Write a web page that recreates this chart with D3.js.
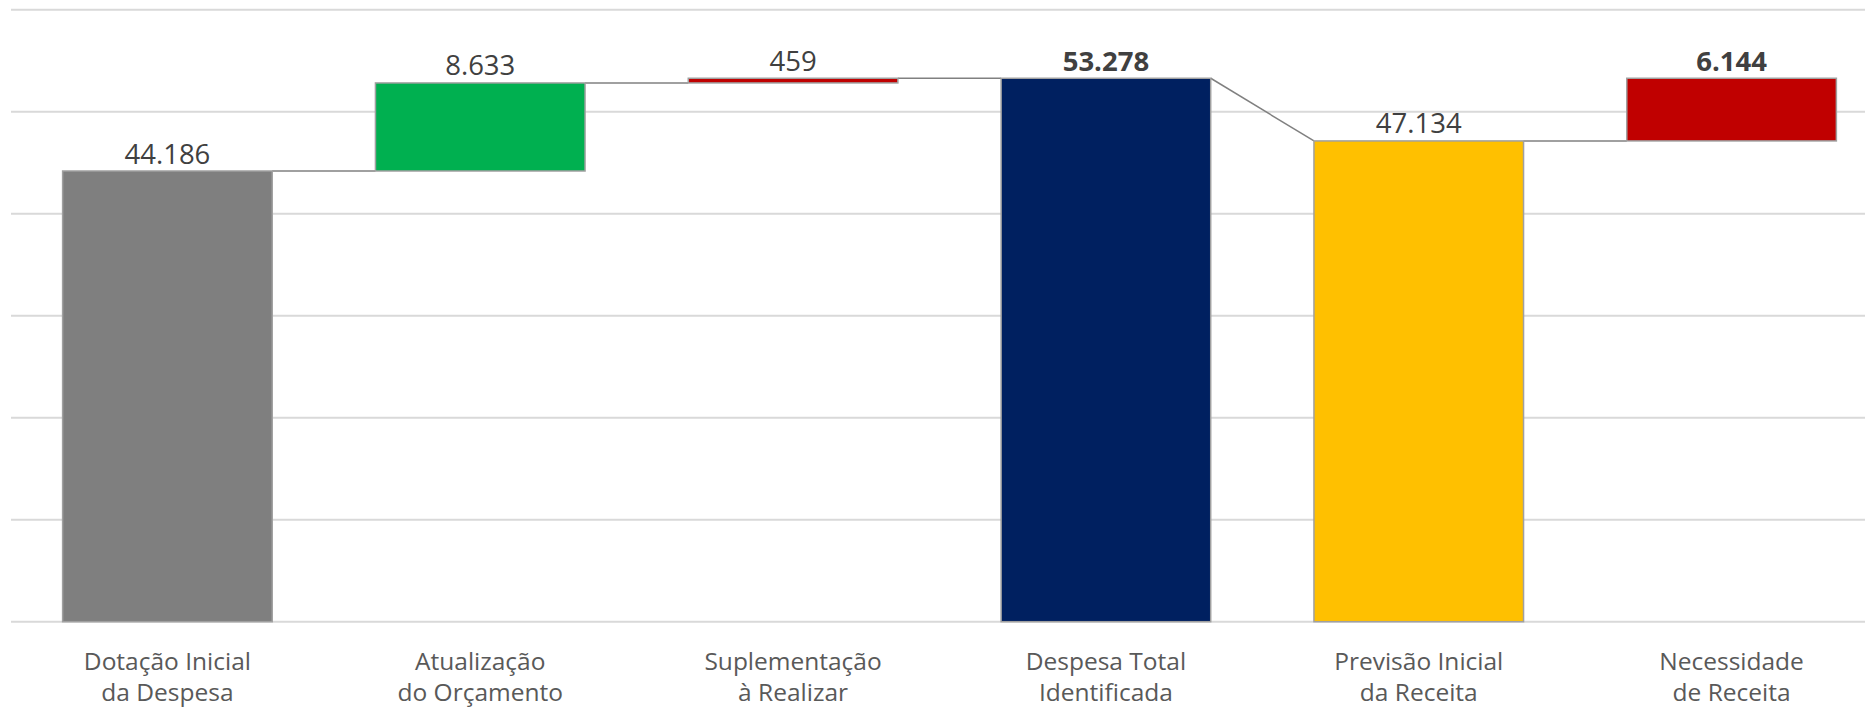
<!DOCTYPE html>
<html>
<head>
<meta charset="utf-8">
<script src="https://cdn.jsdelivr.net/npm/d3@7"></script>
<style>
  body { margin: 0; background: white; }
  text { font-family: "Open Sans", sans-serif; }
</style>
</head>
<body>
<div id="vis"></div>
<script>
// chart data
const categories = [
  ['Dotação Inicial', 'da Despesa'],
  ['Atualização', 'do Orçamento'],
  ['Suplementação', 'à Realizar'],
  ['Despesa Total', 'Identificada'],
  ['Previsão Inicial', 'da Receita'],
  ['Necessidade', 'de Receita']
];
const values = [44186, 8633, 459, 53278, 47134, 6144];
const isTotal = [true, false, false, true, true, false];
const isBold = [false, false, false, true, false, true];
const barColors = ['#7f7f7f', '#00b050', '#c00000', '#002060', '#ffc000', '#c00000'];
const yTicks = [0, 10000, 20000, 30000, 40000, 50000, 60000];

let width = 1865, height = 708;

let svg = d3.select('#vis')
  .append('svg')
  .attr('width', width)
  .attr('height', height)
  .style('display', 'block');

// running totals for the waterfall
let running = 0;
const bars = values.map((v, i) => {
  let start, end;
  if (isTotal[i]) { start = 0; end = v; }
  else { start = running; end = running + v; }
  running = end;
  return { i: i, v: v, start: start, end: end, cat: categories[i].join(' ') };
});

let x = d3.scaleBand()
  .domain(bars.map(d => d.cat))
  .range([11, 1888])
  .paddingInner(0.33)
  .paddingOuter(0.165);

let y = d3.scaleLinear()
  .domain([0, 60000])
  .range([621.7, 9.7]);

// gridlines
svg.append('g')
  .selectAll('line')
  .data(yTicks)
  .join('line')
  .attr('x1', 11)
  .attr('x2', width)
  .attr('y1', d => y(d))
  .attr('y2', d => y(d))
  .attr('stroke', '#d9d9d9')
  .attr('stroke-width', 2);

// connectors
let links = bars.slice(0, -1).map((d, i) => {
  let n = bars[i + 1];
  return {
    x1: x(d.cat) + x.bandwidth(), y1: d.end,
    x2: x(n.cat), y2: isTotal[i + 1] ? n.end : n.start
  };
});
svg.append('g')
  .selectAll('line')
  .data(links)
  .join('line')
  .attr('x1', d => d.x1)
  .attr('x2', d => d.x2)
  .attr('y1', d => y(d.y1))
  .attr('y2', d => y(d.y2))
  .attr('stroke', '#808080')
  .attr('stroke-width', 1.5);

// bars
svg.append('g')
  .selectAll('rect')
  .data(bars)
  .join('rect')
  .attr('x', d => x(d.cat))
  .attr('width', x.bandwidth())
  .attr('y', d => y(Math.max(d.start, d.end)))
  .attr('height', d => Math.abs(y(d.start) - y(d.end)))
  .attr('fill', d => barColors[d.i])
  .attr('stroke', '#a0a0a0')
  .attr('stroke-width', 1.5);

// value labels
const fmt = d3.formatLocale({ decimal: ',', thousands: '.', grouping: [3], currency: ['', ''] }).format(',');
svg.append('g')
  .selectAll('text')
  .data(bars)
  .join('text')
  .attr('x', d => x(d.cat) + x.bandwidth() / 2)
  .attr('y', d => y(Math.max(d.start, d.end)) - 7.5)
  .attr('text-anchor', 'middle')
  .attr('font-size', 27.5)
  .attr('font-weight', d => isBold[d.i] ? 'bold' : 'normal')
  .attr('fill', '#404040')
  .text(d => fmt(d.v));

// category labels (two lines each)
let catG = svg.append('g')
  .selectAll('text')
  .data(bars)
  .join('text')
  .attr('text-anchor', 'middle')
  .attr('font-size', 24.5)
  .attr('fill', '#595959');
catG.selectAll('tspan')
  .data(d => categories[d.i].map((t, k) => ({ t: t, k: k, cx: x(d.cat) + x.bandwidth() / 2 })))
  .join('tspan')
  .attr('x', d => d.cx)
  .attr('y', d => 669.5 + d.k * 31.5)
  .text(d => d.t);
</script>
</body>
</html>
